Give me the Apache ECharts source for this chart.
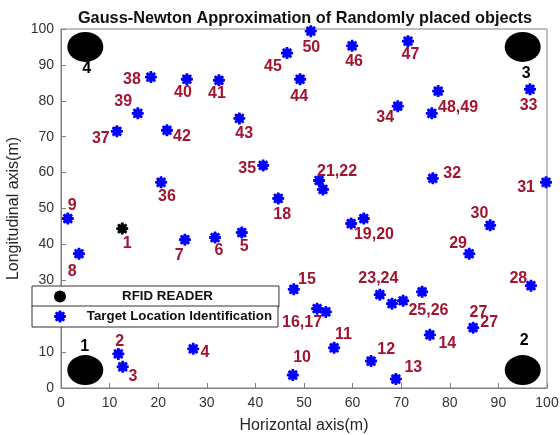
<!DOCTYPE html>
<html>
<head>
<meta charset="utf-8">
<script src="https://cdn.jsdelivr.net/npm/echarts@6/dist/echarts.min.js"></script>
<style>
  html, body { margin: 0; padding: 0; background: #fff; }
  #chart { width: 560px; height: 435px; }
</style>
</head>
<body>
<div id="chart"></div>
<script>
// RFID reader positions (m) and their tag text
const readerX = [5, 95, 95, 5];
const readerY = [5, 5, 95, 95];
const readerTags = ['1', '2', '3', '4'];
const readerTagX = [4.9, 95.3, 95.7, 5.3];
const readerTagY = [11.4, 13.1, 87.5, 89.1];

// Estimated target locations (m), targets 1..50
const targetX = [12.6, 11.8, 12.7, 27.2, 37.2, 31.7, 25.5, 3.7, 1.4, 47.7,
                 56.2, 63.8, 68.9, 75.9, 47.9, 52.7, 54.5, 44.7, 59.7, 62.3,
                 53.1, 53.9, 65.6, 74.3, 68.1, 70.4, 84.8, 96.7, 84.0, 88.3,
                 99.8, 76.5, 96.5, 69.3, 41.6, 20.6, 11.5, 18.5, 15.8, 25.9,
                 32.5, 21.8, 36.7, 49.2, 46.5, 59.9, 71.4, 77.6, 76.3, 51.4];
const targetY = [44.4, 9.5, 5.9, 10.9, 43.3, 41.9, 41.3, 37.4, 47.2, 3.6,
                 11.2, 7.5, 2.5, 14.8, 27.5, 22.1, 21.2, 52.8, 45.8, 47.2,
                 57.8, 55.3, 26.0, 26.8, 23.5, 24.3, 16.8, 28.5, 37.4, 45.3,
                 57.3, 58.4, 83.2, 78.5, 62.0, 57.3, 71.5, 86.6, 76.5, 86.0,
                 85.7, 71.8, 75.1, 86.0, 93.3, 95.3, 96.6, 82.7, 76.5, 99.4];

// Target number annotations, placed in axis units
const tagText = ['1', '2', '3', '4', '5', '6', '7', '8', '9', '10',
                 '11', '12', '13', '14', '15', '16,17', '18', '19,20', '21,22', '23,24',
                 '25,26', '27', '27', '28', '29', '30', '31', '32', '33', '34',
                 '35', '36', '37', '38', '39', '40', '41', '42', '43', '44',
                 '45', '46', '47', '48,49', '50'];
const tagX = [13.6, 12.1, 14.8, 29.6, 37.7, 32.5, 24.3, 2.3, 2.3, 49.6,
              58.1, 66.9, 72.5, 79.5, 50.6, 49.6, 45.5, 64.4, 56.8, 65.3,
              75.6, 85.9, 88.1, 94.1, 81.7, 86.1, 95.7, 80.5, 96.2, 66.7,
              38.3, 21.8, 8.2, 14.6, 12.8, 25.1, 32.1, 24.9, 37.7, 49.0,
              43.6, 60.3, 71.9, 81.7, 51.5];
const tagY = [40.1, 12.8, 3.3, 10.0, 39.3, 38.4, 36.8, 32.3, 50.7, 8.4,
              14.8, 10.6, 5.8, 12.5, 30.1, 18.1, 48.2, 42.6, 60.2, 30.6,
              21.7, 20.9, 18.1, 30.4, 40.1, 48.5, 55.7, 59.6, 78.6, 75.2,
              61.0, 53.2, 69.6, 85.8, 79.9, 82.4, 81.9, 69.9, 70.8, 81.1,
              89.4, 90.8, 93.0, 78.0, 94.7];

const FONT = '"Liberation Sans", Arial, Helvetica, sans-serif';
const TAG_RED = '#A2142F';

// Thick eight-armed asterisk marker
function asteriskPath() {
  const pts = [];
  for (let k = 0; k < 8; k++) {
    const a = k * Math.PI / 4;
    pts.push([Math.cos(a - 0.2), Math.sin(a - 0.2)]);
    pts.push([Math.cos(a + 0.2), Math.sin(a + 0.2)]);
    const b = a + Math.PI / 8;
    pts.push([0.7 * Math.cos(b), 0.7 * Math.sin(b)]);
  }
  return 'path://M' + pts.map(p => (p[0] * 10 + 10).toFixed(2) + ',' + (p[1] * 10 + 10).toFixed(2)).join('L') + 'Z';
}
const STAR = asteriskPath();

const readerData = readerX.map((x, i) => [x, readerY[i]]);
const targetData = targetX.map((x, i) => {
  const d = { value: [x, targetY[i]] };
  if (i === 0) d.itemStyle = { color: '#000' };
  return d;
});
const readerTagData = readerTags.map((t, i) => ({ name: t, value: [readerTagX[i], readerTagY[i]] }));
const targetTagData = tagText.map((t, i) => ({ name: t, value: [tagX[i], tagY[i]] }));

const axisGrey = '#7f7f7f';
const legendCommon = {
  left: 32,
  orient: 'vertical',
  itemWidth: 12,
  itemHeight: 12,
  borderColor: '#333',
  borderWidth: 1,
  borderRadius: 0,
  backgroundColor: '#fff',
  selectedMode: false,
  z: 10
};

const option = {
  animation: false,
  backgroundColor: '#fff',
  title: {
    text: 'Gauss-Newton Approximation of Randomly placed objects',
    left: 300,
    textAlign: 'center',
    top: 6,
    textStyle: { fontFamily: FONT, fontSize: 16.3, fontWeight: 'bold', color: '#111' }
  },
  grid: {
    left: 61, right: 13, top: 29, bottom: 47,
    outerBoundsMode: 'none',
    containLabel: false,
    show: true, borderColor: axisGrey, borderWidth: 1, backgroundColor: '#fff'
  },
  legend: [
    Object.assign({}, legendCommon, {
      top: 286,
      padding: [4, 66, 4, 22],
      data: [{ name: 'RFID READER', icon: 'circle' }],
      formatter: '{a|{name}}',
      textStyle: { rich: { a: { width: 193, align: 'center', fontSize: 13.3, fontWeight: 'bold', color: '#111', fontFamily: FONT } } }
    }),
    Object.assign({}, legendCommon, {
      top: 306,
      padding: [4, 6, 4, 22],
      data: [{ name: 'Target Location Identification', icon: STAR }],
      formatter: '{b|{name}}',
      textStyle: { rich: { b: { width: 201, align: 'right', fontSize: 13.3, fontWeight: 'bold', color: '#111', fontFamily: FONT } } }
    })
  ],
  xAxis: {
    type: 'value', min: 0, max: 100, interval: 10,
    name: 'Horizontal axis(m)', nameLocation: 'middle', nameGap: 30,
    nameTextStyle: { fontFamily: FONT, fontSize: 16, color: '#262626' },
    axisLine: { onZero: false, lineStyle: { color: axisGrey } },
    axisTick: { inside: true, length: 5, lineStyle: { color: axisGrey } },
    axisLabel: { fontFamily: FONT, fontSize: 14, color: '#333', margin: 8 },
    splitLine: { show: false }
  },
  yAxis: {
    type: 'value', min: 0, max: 100, interval: 10,
    name: 'Longitudinal axis(m)', nameLocation: 'middle', nameGap: 39, nameRotate: 90,
    nameMoveOverlap: false,
    nameTextStyle: { fontFamily: FONT, fontSize: 16, color: '#262626' },
    axisLine: { onZero: false, lineStyle: { color: axisGrey } },
    axisTick: { inside: true, length: 5, lineStyle: { color: axisGrey } },
    axisLabel: { fontFamily: FONT, fontSize: 14, color: '#333', margin: 7 },
    splitLine: { show: false }
  },
  series: [
    {
      name: 'RFID READER',
      type: 'scatter',
      symbol: 'circle',
      symbolSize: [36, 30],
      itemStyle: { color: '#000', opacity: 1 },
      data: readerData,
      z: 3
    },
    {
      name: 'Target Location Identification',
      type: 'scatter',
      symbol: STAR,
      symbolSize: 12,
      itemStyle: { color: '#0000ff', opacity: 1 },
      data: targetData,
      z: 3
    },
    {
      name: 'reader tags',
      type: 'scatter',
      symbolSize: 1,
      itemStyle: { color: 'transparent', opacity: 1 },
      silent: true,
      label: { show: true, position: 'inside', formatter: '{b}', fontFamily: FONT, fontSize: 16, fontWeight: 'bold', color: '#000' },
      data: readerTagData,
      z: 4
    },
    {
      name: 'target tags',
      type: 'scatter',
      symbolSize: 1,
      itemStyle: { color: 'transparent', opacity: 1 },
      silent: true,
      label: { show: true, position: 'inside', formatter: '{b}', fontFamily: FONT, fontSize: 16, fontWeight: 'bold', color: TAG_RED },
      data: targetTagData,
      z: 4
    }
  ]
};

const chart = echarts.init(document.getElementById('chart'), null, { renderer: 'canvas' });
chart.setOption(option);
</script>
</body>
</html>
